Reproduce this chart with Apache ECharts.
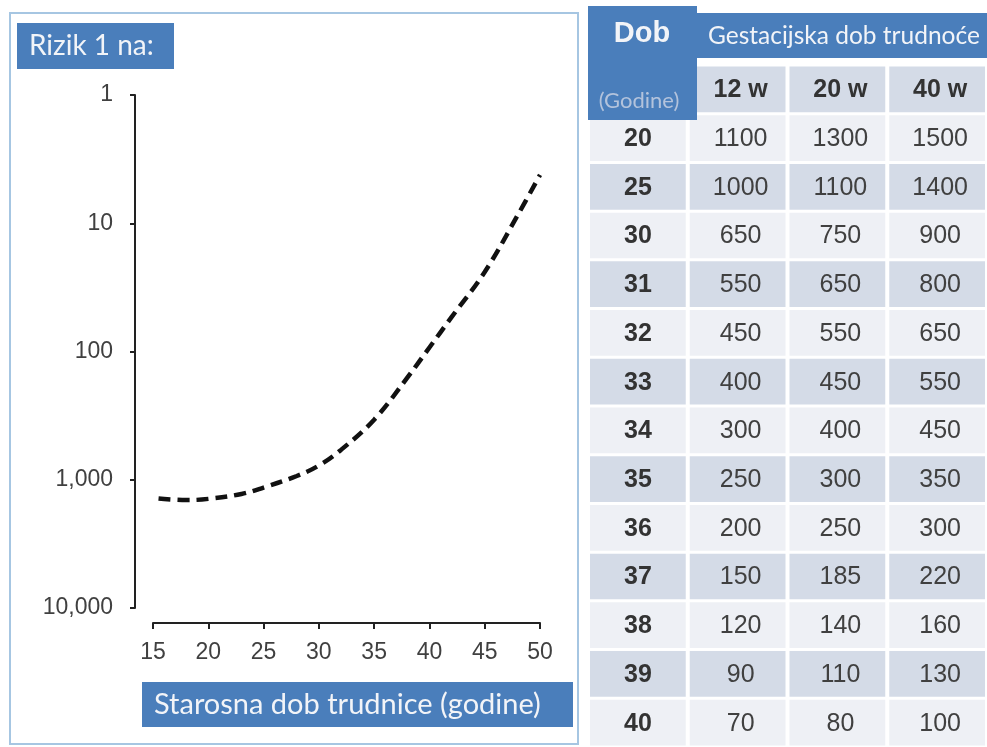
<!DOCTYPE html>
<html>
<head>
<meta charset="utf-8">
<script src="https://cdn.jsdelivr.net/npm/echarts@6/dist/echarts.min.js"></script>
<style>
  html, body { margin: 0; padding: 0; background: #fff; }
  #chart { width: 987px; height: 747px; }
</style>
</head>
<body>
<div id="chart"></div>
<script>
// krivulja rizika (dob -> rizik 1 na X)
const riskAges = [15.5, 18, 20, 23, 25, 28, 30, 32, 35, 38, 40, 42, 45, 48, 50];
const riskValues = [1400, 1440, 1410, 1290, 1150, 935, 775, 585, 340, 160, 93, 54, 24, 8.6, 4.2];
const yTickValues = [1, 10, 100, 1000, 10000];
const yTickLabels = ['1', '10', '100', '1,000', '10,000'];

// tablica
const tableAges = ['20', '25', '30', '31', '32', '33', '34', '35', '36', '37', '38', '39', '40'];
const weekCols = ['12 w', '20 w', '40 w'];
const risk12w = [1100, 1000, 650, 550, 450, 400, 300, 250, 200, 150, 120, 90, 70];
const risk20w = [1300, 1100, 750, 650, 550, 450, 400, 300, 250, 185, 140, 110, 80];
const risk40w = [1500, 1400, 900, 800, 650, 550, 450, 350, 300, 220, 160, 130, 100];

const blue = '#4a7ebb';
const txt = '#404040';
const calibri = 'Lato, "Open Sans", sans-serif';
const arial = '"Liberation Sans", Arial, sans-serif';

// celije tablice: red 0 = zaglavlje tjedana
const cells = [];
weekCols.forEach((w, i) => cells.push({ col: i + 1, row: 0, text: w, bold: true }));
tableAges.forEach((a, i) => {
    cells.push({ col: 0, row: i + 1, text: a, bold: true });
    cells.push({ col: 1, row: i + 1, text: String(risk12w[i]) });
    cells.push({ col: 2, row: i + 1, text: String(risk20w[i]) });
    cells.push({ col: 3, row: i + 1, text: String(risk40w[i]) });
});

const chart = echarts.init(document.getElementById('chart'));

const option = {
    animation: false,
    backgroundColor: '#fff',
    grid: [
        { left: 153, width: 387, top: 95, height: 513 },
        { left: 588, width: 408, top: 65, height: 685 }
    ],
    xAxis: [{
        gridIndex: 0,
        type: 'value',
        min: 15,
        max: 50,
        interval: 5,
        offset: 15,
        splitLine: { show: false },
        axisLine: { show: true, lineStyle: { color: '#222', width: 2 } },
        axisTick: { show: true, length: 6, inside: false, lineStyle: { color: '#222', width: 2 } },
        axisLabel: { margin: 18, fontSize: 23, color: txt, fontFamily: arial }
    }, {
        gridIndex: 1,
        type: 'category',
        data: ['Dob'].concat(weekCols),
        show: false
    }],
    yAxis: [{
        gridIndex: 0,
        type: 'log',
        logBase: 10,
        min: 1,
        max: 10000,
        inverse: true,
        offset: 18,
        splitLine: { show: false },
        axisLine: { show: true, lineStyle: { color: '#222', width: 2 } },
        axisTick: { show: true, length: 5, lineStyle: { color: '#222', width: 2 } },
        axisLabel: {
            margin: 22,
            fontSize: 23,
            color: txt,
            fontFamily: arial,
            formatter: v => {
                const i = yTickValues.indexOf(Math.round(v));
                return i >= 0 ? yTickLabels[i] : '';
            }
        }
    }, {
        gridIndex: 1,
        type: 'category',
        data: ['hdr'].concat(tableAges),
        inverse: true,
        show: false
    }],
    series: [{
        type: 'line',
        xAxisIndex: 0,
        yAxisIndex: 0,
        data: riskAges.map((a, i) => [a, riskValues[i]]),
        smooth: 0.4,
        showSymbol: false,
        lineStyle: { color: '#111', width: 4.5, type: [12, 7], cap: 'butt' }
    }, {
        type: 'custom',
        xAxisIndex: 1,
        yAxisIndex: 1,
        data: cells.map(c => [c.col, c.row]),
        renderItem: (params, api) => {
            const cell = cells[params.dataIndex];
            const p = api.coord([api.value(0), api.value(1)]);
            const s = api.size([1, 1]);
            const fill = cell.row === 0 ? '#d4dbe7' : (cell.row % 2 === 1 ? '#eef0f5' : '#d4dbe7');
            return {
                type: 'group',
                children: [{
                    type: 'rect',
                    shape: { x: p[0] - s[0] / 2 + 2, y: p[1] - s[1] / 2 + 1.5, width: s[0] - 4, height: s[1] - 3 },
                    style: { fill: fill }
                }, {
                    type: 'text',
                    style: {
                        text: cell.text,
                        x: p[0] + (cell.col === 0 ? 0 : 3),
                        y: p[1] + 1,
                        align: 'center',
                        verticalAlign: 'middle',
                        fill: cell.bold ? '#333' : txt,
                        font: (cell.bold ? 'bold ' : '') + '25px ' + arial
                    }
                }]
            };
        }
    }],
    graphic: [
        // okvir lijevog panela
        { type: 'rect', z: -10, shape: { x: 10, y: 13, width: 568, height: 731 }, style: { fill: '#fff', stroke: '#a6c6e2', lineWidth: 2 } },
        { type: 'rect', z: 10, shape: { x: 17, y: 23, width: 157, height: 46 }, style: { fill: blue } },
        { type: 'text', z: 11, style: { text: 'Rizik 1 na:', x: 29, y: 46, verticalAlign: 'middle', fill: '#f2f4f8', font: '28px ' + calibri } },
        { type: 'rect', z: 10, shape: { x: 142, y: 682, width: 431, height: 45 }, style: { fill: blue } },
        { type: 'text', z: 11, style: { text: 'Starosna dob trudnice (godine)', x: 154, y: 705, verticalAlign: 'middle', fill: '#f2f4f8', font: '29px ' + calibri } },
        // zaglavlje tablice
        { type: 'rect', z: 10, shape: { x: 588, y: 6, width: 109, height: 114 }, style: { fill: blue } },
        { type: 'text', z: 11, style: { text: 'Dob', x: 642, y: 34, align: 'center', verticalAlign: 'middle', fill: '#f2f4f8', font: 'bold 29px ' + arial } },
        { type: 'text', z: 11, style: { text: '(Godine)', x: 639, y: 101, align: 'center', verticalAlign: 'middle', fill: '#b3c3dc', font: '22px ' + calibri } },
        { type: 'rect', z: 10, shape: { x: 697, y: 13, width: 290, height: 45 }, style: { fill: blue } },
        { type: 'text', z: 11, style: { text: 'Gestacijska dob trudnoće', x: 708, y: 36, verticalAlign: 'middle', fill: '#f2f4f8', font: '24.5px ' + calibri } }
    ]
};

chart.setOption(option);
</script>
</body>
</html>
